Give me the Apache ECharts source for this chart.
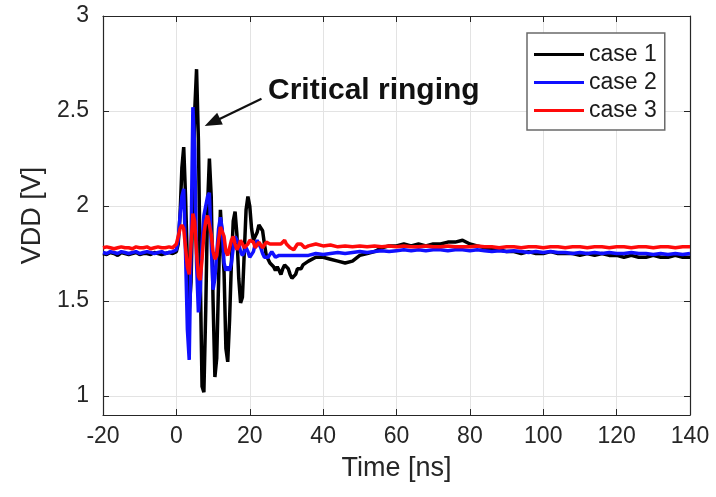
<!DOCTYPE html>
<html>
<head>
<meta charset="utf-8">
<script src="https://cdn.jsdelivr.net/npm/echarts@6/dist/echarts.min.js"></script>
<style>
html,body{margin:0;padding:0;background:#fff;}
#main{width:716px;height:497px;}
</style>
</head>
<body>
<div id="main"></div>
<script>
// ---- data ----
const time = [
  -20,-19,-18,-17,-16,-15,-14,-13,-12,-11,-10,-9,-8,-7,-6,-5,-4,-3,-2,-1,
  0,0.5,1,1.5,2,2.5,3,3.5,4,4.5,5,5.5,6,6.5,7,7.5,8,8.5,9,9.5,
  10,10.5,11,11.5,12,12.5,13,13.5,14,14.5,15,15.5,16,16.5,17,17.5,18,18.5,19,19.5,
  20,20.5,21,21.5,22,22.5,23,23.5,24,24.5,25,25.5,26,26.5,27,27.5,28,28.5,29,29.5,
  30,30.5,31,31.5,32,32.5,33,33.5,34,34.5,35,
  36,38,40,42,44,46,48,50,52,54,56,58,60,62,64,66,68,70,72,74,76,78,80,82,84,86,88,
  90,92,94,96,98,100,102,104,106,108,110,112,114,116,118,120,122,124,126,128,130,
  132,134,136,138,140
];
const case1 = [
  1.75,1.745,1.755,1.75,1.74,1.755,1.75,1.745,1.75,1.755,1.745,1.75,1.75,1.745,1.755,1.75,1.745,1.75,1.755,1.75,
  1.76,1.80,1.95,2.20,2.31,2.05,1.70,1.45,1.60,2.05,2.50,2.72,2.35,1.65,1.05,1.02,1.45,2.00,2.25,2.05,
  1.50,1.10,1.20,1.60,1.98,1.98,1.65,1.25,1.18,1.40,1.70,1.92,1.97,1.85,1.62,1.49,1.52,1.75,1.98,2.05,
  2.00,1.88,1.82,1.83,1.86,1.90,1.90,1.87,1.80,1.74,1.72,1.70,1.71,1.68,1.66,1.68,1.66,1.64,1.67,1.69,
  1.68,1.67,1.64,1.62,1.62,1.64,1.67,1.68,1.67,1.69,1.70,
  1.71,1.73,1.73,1.72,1.71,1.70,1.71,1.74,1.75,1.76,1.78,1.79,1.79,1.80,1.79,1.80,1.79,1.80,1.80,1.81,1.81,1.82,1.80,1.79,1.78,1.77,1.77,
  1.76,1.76,1.75,1.76,1.75,1.75,1.76,1.75,1.75,1.75,1.74,1.75,1.74,1.75,1.74,1.74,1.73,1.74,1.73,1.73,1.74,
  1.73,1.73,1.74,1.73,1.73
];
const case2 = [
  1.755,1.75,1.76,1.755,1.75,1.76,1.755,1.75,1.755,1.76,1.75,1.755,1.76,1.755,1.75,1.755,1.76,1.75,1.755,1.76,
  1.77,1.82,1.95,2.05,2.09,1.75,1.35,1.19,1.80,2.52,2.30,1.70,1.44,1.55,1.80,1.95,2.00,2.05,2.07,1.80,
  1.56,1.62,1.75,1.88,1.94,1.88,1.70,1.66,1.68,1.66,1.70,1.78,1.84,1.84,1.80,1.76,1.74,1.75,1.78,1.76,
  1.73,1.72,1.76,1.80,1.82,1.82,1.78,1.75,1.73,1.72,1.73,1.74,1.76,1.75,1.73,1.72,1.74,1.73,1.74,1.73,
  1.74,1.75,1.74,1.73,1.74,1.75,1.74,1.73,1.74,1.75,1.74,
  1.74,1.75,1.745,1.75,1.755,1.75,1.755,1.76,1.755,1.76,1.765,1.76,1.765,1.77,1.765,1.77,1.765,1.77,1.77,1.765,1.77,1.77,1.765,1.77,1.765,1.76,1.765,
  1.76,1.765,1.76,1.755,1.76,1.755,1.76,1.755,1.755,1.75,1.755,1.75,1.755,1.75,1.755,1.75,1.75,1.755,1.75,1.75,1.745,
  1.75,1.745,1.75,1.745,1.75
];
const case3 = [
  1.78,1.785,1.78,1.775,1.78,1.785,1.78,1.78,1.775,1.785,1.78,1.78,1.785,1.775,1.78,1.785,1.78,1.78,1.785,1.78,
  1.80,1.84,1.88,1.90,1.88,1.78,1.68,1.64,1.80,1.96,1.92,1.75,1.63,1.61,1.72,1.85,1.92,1.95,1.94,1.85,
  1.76,1.72,1.74,1.82,1.89,1.90,1.84,1.76,1.74,1.78,1.82,1.84,1.80,1.77,1.79,1.82,1.80,1.78,1.77,1.80,
  1.82,1.83,1.81,1.78,1.79,1.81,1.80,1.78,1.79,1.81,1.82,1.80,1.79,1.80,1.81,1.80,1.79,1.80,1.81,1.82,
  1.80,1.79,1.78,1.79,1.77,1.78,1.80,1.81,1.80,1.79,1.78,
  1.79,1.80,1.79,1.795,1.785,1.79,1.785,1.79,1.785,1.79,1.785,1.79,1.785,1.79,1.785,1.785,1.79,1.785,1.785,1.79,1.785,1.785,1.785,1.79,1.785,1.785,1.78,
  1.785,1.785,1.78,1.785,1.785,1.78,1.785,1.785,1.78,1.785,1.785,1.78,1.785,1.785,1.78,1.785,1.785,1.78,1.785,1.785,1.78,
  1.785,1.785,1.78,1.785,1.785
];
const seriesNames = ['case 1','case 2','case 3'];
const seriesColors = ['#000000','#1010ff','#ff0a0a'];
const yTicks = [1,1.5,2,2.5,3];
const annotationText = 'Critical ringing';
const arrowFrom = [23.2, 2.565];
const arrowTo = [9.8, 2.44];

// ---- chart ----
const FONT = '"Liberation Sans", Arial, sans-serif';
const AX = '#262626';
function pairs(vals){ return vals.map((v,i)=>[time[i], v]); }
const allVals = [case1, case2, case3];

const chart = echarts.init(document.getElementById('main'), null, {renderer:'canvas'});
const series = allVals.map((vals, k) => ({
  name: seriesNames[k],
  type: 'line',
  data: pairs(vals),
  showSymbol: false,
  symbol: 'none',
  lineStyle: {color: seriesColors[k], width: 3.5},
  itemStyle: {color: seriesColors[k]},
  z: 3 + k,
  silent: true
}));
series[2].markLine = {
  silent: true,
  symbol: ['none', 'triangle'],
  symbolSize: [13, 17],
  label: {show: false},
  lineStyle: {color: '#111', width: 2.2, type: 'solid'},
  data: [[{coord: arrowFrom}, {coord: arrowTo}]],
  z: 10
};

chart.setOption({
  animation: false,
  backgroundColor: '#fff',
  grid: {left: 103, right: 26, top: 16, bottom: 82, containLabel: false},
  legend: {
    data: seriesNames,
    orient: 'vertical',
    left: 527, top: 33,
    padding: [10, 8, 8, 7],
    icon: 'rect',
    itemWidth: 50, itemHeight: 3, itemGap: 5,
    backgroundColor: '#fff',
    borderColor: '#6a6a6a', borderWidth: 1.5,
    textStyle: {fontFamily: FONT, fontSize: 23, color: '#1a1a1a'}
  },
  xAxis: [{
    type: 'value', min: -20, max: 140, interval: 20,
    name: 'Time [ns]', nameLocation: 'middle', nameGap: 40,
    nameTextStyle: {fontFamily: FONT, fontSize: 27, color: AX},
    axisLine: {show: true, onZero: false, lineStyle: {color: AX, width: 1.2}},
    axisTick: {show: true, inside: true, length: 6, lineStyle: {color: AX}},
    axisLabel: {fontFamily: FONT, fontSize: 23, color: AX, margin: 10},
    splitLine: {show: true, lineStyle: {color: '#e3e3e3', width: 1}}
  }, {
    type: 'value', min: -20, max: 140, interval: 20, position: 'top',
    axisLine: {show: true, onZero: false, lineStyle: {color: AX, width: 1.2}},
    axisTick: {show: true, inside: true, length: 6, lineStyle: {color: AX}},
    axisLabel: {show: false}, splitLine: {show: false}
  }],
  yAxis: [{
    type: 'value', min: 0.9, max: 3,
    name: 'VDD [V]', nameLocation: 'middle', nameGap: 57,
    nameTextStyle: {fontFamily: FONT, fontSize: 27, color: AX},
    axisLine: {show: true, onZero: false, lineStyle: {color: AX, width: 1.2}},
    axisTick: {show: true, inside: true, length: 6, lineStyle: {color: AX}, customValues: yTicks},
    axisLabel: {fontFamily: FONT, fontSize: 23, color: AX, margin: 14, customValues: yTicks},
    splitLine: {show: true, lineStyle: {color: '#e3e3e3', width: 1}}
  }, {
    type: 'value', min: 0.9, max: 3, position: 'right',
    axisLine: {show: true, onZero: false, lineStyle: {color: AX, width: 1.2}},
    axisTick: {show: true, inside: true, length: 6, lineStyle: {color: AX}, customValues: yTicks},
    axisLabel: {show: false}, splitLine: {show: false}
  }],
  graphic: [{
    type: 'text', left: 268, top: 76, z: 20,
    style: {text: annotationText, font: 'bold 30px ' + FONT, fill: '#111'}
  }],
  series: series
});
</script>
</body>
</html>
